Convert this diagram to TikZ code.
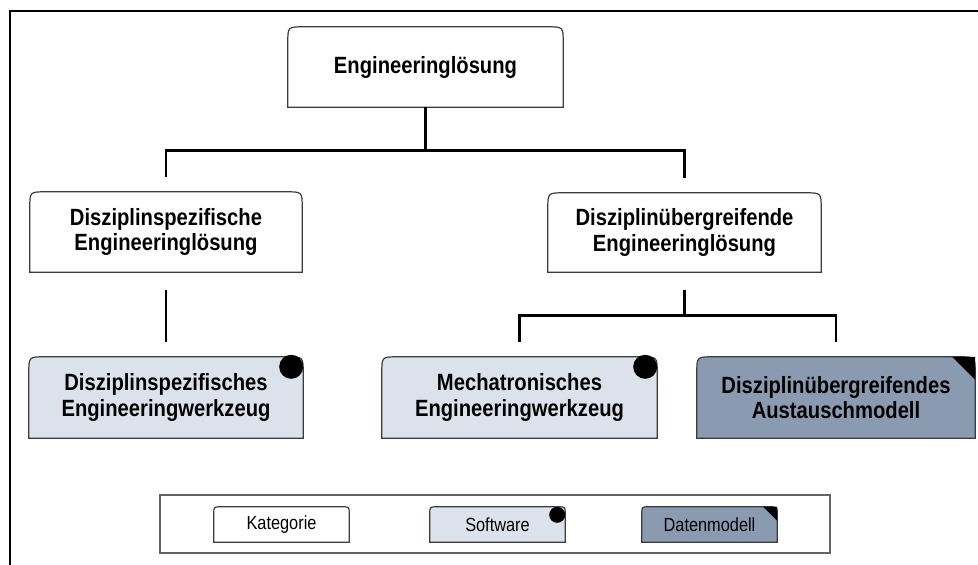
\documentclass[tikz,border=0pt]{standalone}
\usepackage{fontspec}
\setmainfont{Liberation Sans}[FakeStretch=0.86]
\usetikzlibrary{calc,backgrounds}

\definecolor{swfill}{RGB}{220,226,236}
\definecolor{dmfill}{RGB}{138,155,177}
\definecolor{edge}{RGB}{60,60,60}

% outline with rounded top corners and square bottom corners
\newcommand\tabshape[3]{%
  \path[#2] (#1.south west) -- ($(#1.north west)+(0,#3)$)
    .. controls (#1.north west) .. ($(#1.north west)+(#3,0)$)
    -- ($(#1.north east)+(-#3,0)$)
    .. controls (#1.north east) .. ($(#1.north east)+(0,#3)$)
    -- (#1.south east) -- cycle;}

\tikzset{
  lbl/.style={inner sep=0pt, align=center, font=\fontsize{23.5}{25.5}\selectfont\bfseries},
  leglbl/.style={inner sep=0pt, align=center, minimum height=35, font=\fontsize{19}{21}\selectfont},
  catfill/.style={draw=edge, line width=1.2pt, fill=white},
  swshape/.style={draw=edge, line width=1.2pt, fill=swfill},
  dmshape/.style={draw=edge, line width=1.2pt, fill=dmfill},
  conn/.style={line width=2.8pt, line join=miter},
  frameline/.style={line width=2.6pt},
  legframe/.style={draw=edge!80, line width=1.2pt, inner sep=0pt}
}

\begin{document}
\begin{tikzpicture}[x=1pt,y=-1pt]
\useasboundingbox (0,0) rectangle (978,565);

% outer frame (left and top edges)
\draw[frameline] (10,565) -- (10,11) -- (978,11);

% hierarchy nodes
\node[lbl, minimum width=275, minimum height=80] (top) at (425.5,67) {Engineeringlösung};
\node[lbl, minimum width=272, minimum height=80] (ml) at (166,232) {Disziplinspezifische\\Engineeringlösung};
\node[lbl, minimum width=273, minimum height=79] (mr) at (684.5,232.5) {Disziplinübergreifende\\Engineeringlösung};
\node[lbl, minimum width=274, minimum height=81] (b1) at (166,397.5) {Disziplinspezifisches\\Engineeringwerkzeug};
\node[lbl, minimum width=275, minimum height=81] (b2) at (519.5,397.5) {Mechatronisches\\Engineeringwerkzeug};
\node[lbl, minimum width=278, minimum height=81] (b3) at (836,397.5) {Disziplinübergreifendes\\Austauschmodell};

% legend
\node[legframe, minimum width=670, minimum height=58] (legend) at (495,524) {};
\node[leglbl, minimum width=135] (lk) at (281.5,524.5) {Kategorie};
\node[leglbl, minimum width=135] (ls) at (497.5,524.5) {Software};
\node[leglbl, minimum width=135] (ld) at (709.5,524.5) {Datenmodell};

\begin{scope}[on background layer]
  \tabshape{top}{catfill}{16}
  \tabshape{ml}{catfill}{16}
  \tabshape{mr}{catfill}{16}
  \tabshape{b1}{swshape}{16}
  \tabshape{b2}{swshape}{16}
  \tabshape{b3}{dmshape}{16}
  \tabshape{lk}{catfill}{7}
  \tabshape{ls}{swshape}{7}
  \tabshape{ld}{dmshape}{7}
\end{scope}

% software markers
\fill ([xshift=-12pt,yshift=-10pt]b1.north east) circle[radius=12pt];
\fill ([xshift=-12pt,yshift=-10pt]b2.north east) circle[radius=12pt];
\fill ([xshift=-8pt,yshift=-8pt]ls.north east) circle[radius=8pt];
% data model markers
\fill (b3.north east) -- ++(-23,0) -- ++(23,23) -- cycle;
\fill (ld.north east) -- ++(-14,0) -- ++(14,14) -- cycle;

% connectors
\draw[conn] (top.south) -- ++(0,43) -| ([yshift=15pt]ml.north);
\draw[conn] (top.south) ++(0,43) -| ([yshift=15pt]mr.north);
\draw[conn] ([yshift=-18pt]ml.south) -- ([yshift=15pt]b1.north);
\draw[conn] ([yshift=-18pt]mr.south) -- ++(0,25) -| ([yshift=15pt]b2.north);
\draw[conn] ([yshift=-18pt]mr.south) ++(0,25) -| ([yshift=15pt]b3.north);
\end{tikzpicture}
\end{document}
